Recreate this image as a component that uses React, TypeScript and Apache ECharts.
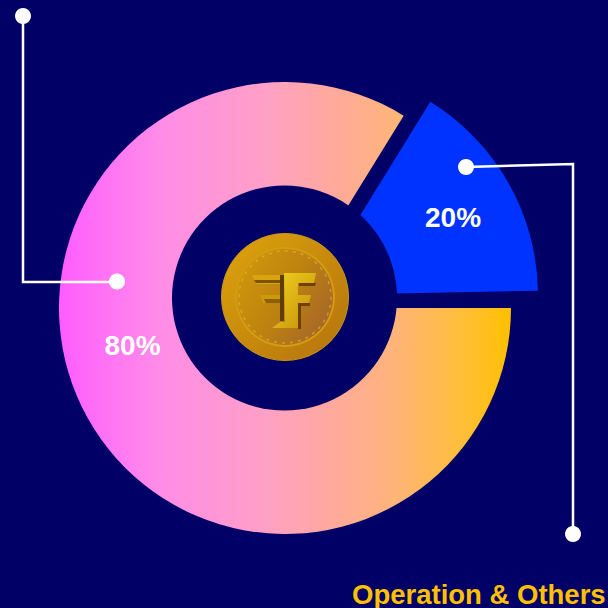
import React, { useEffect, useRef } from "react";
import * as echarts from "echarts";

const shareLabels = ["80%", "20%"];
const legendTitle = "Operation & Others";
// Arc shares as they are actually drawn in the picture (percent of a circle)
const pinkArc = [83.8, 16.2];
const blueArc = [15.9, 84.1];
const NAVY = "#000066";
const WHITE = "#ffffff";
const GOLD = "#FFC000";
const FONT = '"Liberation Sans", Arial, sans-serif';

const lineStyle = { stroke: WHITE, lineWidth: 2.5, fill: "none" };

function coin() {
  const cx = 285, cy = 297;
  const poly = (points: number[][], fill: any, z = 20) => ({ type: "polygon", z, shape: { points }, style: { fill } });
  return [
    { type: "circle", z: 10, shape: { cx, cy, r: 63.5 }, style: { fill: new echarts.graphic.LinearGradient(0, 0, 1, 1, [{ offset: 0, color: "#DFA40E" }, { offset: 0.55, color: "#C6880C" }, { offset: 1, color: "#B4720F" }]), stroke: "#C89A10", lineWidth: 1 } },
    { type: "circle", z: 11, shape: { cx, cy, r: 49 }, style: { fill: new echarts.graphic.LinearGradient(0, 0.2, 1, 0.8, [{ offset: 0, color: "#CF980A" }, { offset: 0.5, color: "#BC8210" }, { offset: 1, color: "#A4642A" }]), stroke: "#D49C10", lineWidth: 2 } },
    { type: "circle", z: 12, shape: { cx, cy, r: 46 }, style: { fill: "none", stroke: "#E8B838", lineWidth: 1.5, lineDash: [3, 5], opacity: 0.6 } },
    poly([[252, 275], [280, 275], [280, 284], [256, 284]], "#D8A60C"),
    poly([[254, 280], [280, 280], [280, 283], [256, 283]], "#7A5206", 21),
    poly([[260, 295], [280, 295], [280, 303], [263, 303]], "#CE9A0A"),
    poly([[264, 299], [280, 299], [280, 303], [266, 303]], "#8A6008", 21),
    poly([[299, 283], [316, 283], [315, 286], [299, 286]], "#6E4010", 19),
    poly([[298, 303], [310, 303], [310, 306], [298, 306]], "#6E4010", 19),
    poly([[298, 303], [301, 303], [301, 329], [298, 329]], "#6E4010", 19),
    poly([[284, 273], [316, 273], [314, 283], [298, 283], [298, 295], [311, 295], [309, 303], [298, 303], [298, 328], [272, 328], [280, 322], [285, 322]], new echarts.graphic.LinearGradient(0, 0, 1, 1, [{ offset: 0, color: "#F2D21E" }, { offset: 1, color: "#C48E0A" }])),
    poly([[280, 275], [284, 275], [284, 321], [280, 321]], "#5E3E06", 21),
  ];
}

export default function App() {
  const ref = useRef<HTMLDivElement>(null);
  useEffect(() => {
    document.body.style.margin = "0";
    document.body.style.overflow = "hidden";
    const chart = echarts.init(ref.current!, undefined, { renderer: "svg" });
    const hidden = { color: "transparent" };
    chart.setOption({
      animation: false,
      backgroundColor: NAVY,
      series: [
        {
          type: "pie",
          silent: true,
          center: [285, 308],
          radius: [0, 226],
          startAngle: 0,
          clockwise: true,
          label: { show: false },
          labelLine: { show: false },
          data: [
            {
              value: pinkArc[0],
              itemStyle: {
                color: {
                  type: "linear", global: true, x: 59, y: 0, x2: 511, y2: 0,
                  colorStops: [
                    { offset: 0, color: "#FF5CFF" },
                    { offset: 0.22, color: "#FF8CE8" },
                    { offset: 0.445, color: "#FF9FC8" },
                    { offset: 0.59, color: "#FFA8A0" },
                    { offset: 0.74, color: "#FFB47A" },
                    { offset: 0.887, color: "#FFBE3A" },
                    { offset: 1, color: GOLD },
                  ],
                },
              },
            },
            { value: pinkArc[1], itemStyle: hidden },
          ],
        },
        {
          type: "pie",
          silent: true,
          center: [311, 295],
          radius: [0, 227],
          startAngle: 58.3,
          clockwise: true,
          label: { show: false },
          labelLine: { show: false },
          data: [
            { value: blueArc[0], itemStyle: { color: "#0033FF" } },
            { value: blueArc[1], itemStyle: hidden },
          ],
        },
      ],
      graphic: [
        { type: "circle", z: 5, shape: { cx: 284.5, cy: 298, r: 112.5 }, style: { fill: NAVY } },
        ...coin(),
        { type: "polyline", z: 30, shape: { points: [[23, 16], [23, 282], [117, 282]] }, style: lineStyle },
        { type: "polyline", z: 30, shape: { points: [[466, 167], [573, 164], [573, 534]] }, style: lineStyle },
        { type: "circle", z: 31, shape: { cx: 23, cy: 16, r: 8 }, style: { fill: WHITE } },
        { type: "circle", z: 31, shape: { cx: 117, cy: 281.5, r: 8 }, style: { fill: WHITE } },
        { type: "circle", z: 31, shape: { cx: 466, cy: 167, r: 8 }, style: { fill: WHITE } },
        { type: "circle", z: 31, shape: { cx: 573, cy: 534, r: 8 }, style: { fill: WHITE } },
        { type: "text", z: 32, x: 132.5, y: 345, style: { text: shareLabels[0], fill: WHITE, font: `bold 28px ${FONT}`, textAlign: "center", textVerticalAlign: "middle" } },
        { type: "text", z: 32, x: 453, y: 217, style: { text: shareLabels[1], fill: WHITE, font: `bold 28px ${FONT}`, textAlign: "center", textVerticalAlign: "middle" } },
        { type: "text", z: 32, x: 352, y: 594, style: { text: legendTitle, fill: GOLD, font: `bold 27.5px ${FONT}`, textAlign: "left", textVerticalAlign: "middle" } },
      ],
    });
    return () => chart.dispose();
  }, []);
  return <div ref={ref} style={{ width: 608, height: 608 }} />;
}
